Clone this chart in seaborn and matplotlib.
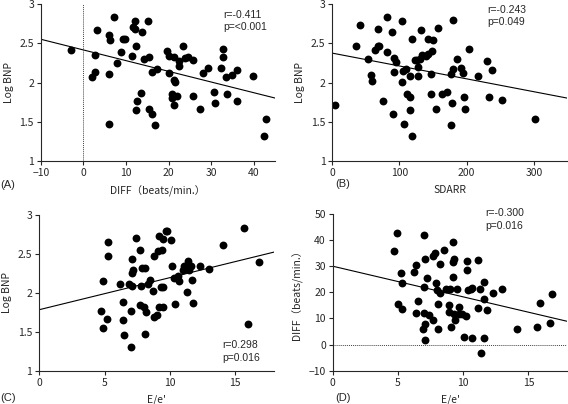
import matplotlib
matplotlib.use("Agg")
import matplotlib.pyplot as plt
import seaborn as sns
import pandas as pd

# =========================
# DATA
# =========================
# (A) DIFF vs Log BNP
a_diff = [-3.0, 1.9, 2.7, 2.7, 3.1, 6.1, 6.3, 6.1, 6.1, 7.1, 8.0, 8.8, 9.3, 9.8,
          11.3, 12.0, 11.7, 12.1, 12.4, 12.6, 12.4, 13.5, 13.7, 14.3, 15.1, 15.5,
          15.4, 16.0, 16.1, 16.8, 17.4, 19.7, 20.0, 20.1, 20.9, 20.9, 21.2, 21.6,
          21.3, 21.4, 21.9, 22.4, 22.5, 23.5, 23.9, 24.5, 25.8, 25.8, 27.4, 28.1,
          29.3, 30.6, 30.9, 32.4, 32.9, 32.9, 33.4, 33.7, 35.0, 36.2, 36.2, 39.9,
          42.8, 42.4]
a_bnp = [2.41, 2.07, 2.14, 2.35, 2.67, 2.61, 2.54, 2.11, 1.47, 2.83, 2.25, 2.39,
         2.55, 2.55, 2.34, 2.79, 2.71, 2.68, 2.46, 1.77, 1.65, 1.87, 2.64, 2.30,
         2.79, 2.32, 1.67, 2.14, 1.60, 1.46, 2.17, 2.40, 2.34, 2.12, 1.85, 1.81,
         2.03, 2.01, 1.71, 2.32, 1.83, 2.21, 2.27, 2.46, 2.31, 2.32, 2.29, 1.83,
         1.66, 2.12, 2.18, 1.88, 1.74, 2.18, 2.43, 2.33, 2.07, 1.85, 2.10, 2.16,
         1.77, 2.08, 1.54, 1.32]

# (B) SDARR vs Log BNP
b_sdarr = [4, 36, 41, 53, 58, 59, 64, 68, 68, 69, 76, 81, 82, 89, 91, 92, 92, 95,
           104, 104, 106, 107, 110, 111, 115, 116, 115, 118, 118, 123, 126, 127,
           128, 130, 132, 134, 139, 142, 143, 147, 147, 148, 150, 155, 158, 164,
           171, 176, 177, 178, 179, 180, 185, 191, 194, 196, 197, 203, 217, 231,
           234, 237, 252, 302]
b_bnp = [1.71, 2.46, 2.73, 2.30, 2.10, 2.02, 2.42, 2.68, 2.46, 2.47, 1.77, 2.39,
         2.83, 2.64, 1.60, 2.31, 2.14, 2.26, 2.01, 2.78, 2.15, 1.47, 2.17, 1.86,
         1.82, 2.08, 1.65, 1.32, 2.55, 2.29, 2.29, 2.20, 2.08, 2.30, 2.67, 2.35,
         2.34, 2.36, 2.55, 1.86, 2.11, 2.40, 2.54, 1.66, 2.70, 1.85, 1.88, 2.11,
         1.46, 1.74, 2.17, 2.80, 2.30, 2.19, 2.12, 1.82, 1.67, 2.43, 2.08, 2.28,
         1.82, 2.16, 1.78, 1.54]

# (C) E/e' vs Log BNP
c_ee = [4.7, 4.9, 4.9, 5.2, 5.3, 5.3, 6.2, 6.4, 6.4, 6.5, 7.0, 7.0, 6.9, 7.1, 7.1,
        7.1, 7.2, 7.4, 7.7, 7.7, 7.8, 7.9, 8.0, 8.1, 8.1, 8.2, 8.3, 8.5, 8.7, 8.8,
        8.8, 9.0, 9.1, 9.2, 9.2, 9.3, 9.4, 9.5, 9.5, 9.5, 9.7, 9.8, 10.1, 10.2,
        10.3, 10.4, 10.6, 10.7, 11.0, 11.1, 11.3, 11.4, 11.5, 11.6, 11.7, 11.8,
        12.3, 13.0, 14.1, 15.7, 16.0, 16.8]
c_bnp = [1.77, 2.15, 1.55, 1.66, 2.65, 2.47, 2.12, 1.88, 1.65, 1.46, 1.31, 1.77,
         2.11, 2.09, 2.43, 2.25, 2.29, 2.70, 2.55, 1.85, 2.09, 2.32, 1.82, 2.32,
         1.47, 1.75, 2.12, 2.16, 2.03, 2.47, 1.69, 1.72, 2.54, 2.73, 1.82, 2.08,
         2.55, 2.69, 2.08, 1.82, 2.79, 2.79, 2.68, 2.34, 2.19, 1.86, 2.22, 2.15,
         2.29, 2.34, 2.01, 2.41, 2.29, 2.34, 2.17, 1.87, 2.34, 2.31, 2.62, 2.83,
         1.60, 2.40]

# (D) E/e' vs DIFF
d_ee = [4.7, 4.9, 5.0, 5.2, 5.3, 5.3, 6.2, 6.4, 6.4, 6.5, 6.9, 7.0, 7.0, 7.0, 7.1,
        7.1, 7.1, 7.2, 7.4, 7.7, 7.7, 7.8, 7.9, 8.0, 8.1, 8.2, 8.2, 8.1, 8.5, 8.7,
        8.9, 8.9, 9.0, 9.1, 9.2, 9.2, 9.2, 9.3, 9.3, 9.4, 9.5, 9.7, 9.7, 9.9, 10.2,
        10.1, 10.3, 10.3, 10.4, 10.6, 10.7, 10.7, 11.1, 11.1, 11.3, 11.4, 11.6,
        11.6, 11.6, 11.8, 12.3, 13.0, 14.1, 15.7, 15.9, 16.7, 16.8]
d_diff = [35.8, 42.5, 15.5, 27.3, 23.4, 13.6, 27.9, 30.3, 12.2, 16.7, 6.1, 41.8,
          22.2, 12.2, 8.0, 1.7, 32.6, 25.6, 11.3, 9.4, 33.7, 34.9, 23.7, 20.9, 6.1,
          30.8, 19.9, 15.4, 36.0, 21.1, 15.3, 12.5, 21.1, 6.6, 25.8, 39.3, 31.7,
          32.6, 11.9, 9.4, 21.4, 14.5, 11.7, 11.7, 10.9, 3.0, 31.9, 28.5, 20.9,
          21.4, 21.8, 2.6, 32.4, 13.9, 21.1, -3.1, 24.1, 17.3, 2.6, 13.2, 19.6,
          21.1, 6.1, 6.8, 16.0, 8.4, 19.3]

stats_text = ["r=-0.411\np=<0.001", "r=-0.243\np=0.049",
              "r=0.298\np=0.016", "r=-0.300\np=0.016"]
panel_tags = ["(A)", "(B)", "(C)", "(D)"]

# =========================
# FIGURE
# =========================
sns.set_style("ticks")
plt.rcParams["font.family"] = ["Noto Sans CJK JP", "DejaVu Sans"]
plt.rcParams["axes.linewidth"] = 0.8
plt.rcParams["xtick.major.size"] = 3
plt.rcParams["ytick.major.size"] = 3
plt.rcParams["xtick.major.width"] = 0.8
plt.rcParams["ytick.major.width"] = 0.8
plt.rcParams["xtick.major.pad"] = 2
plt.rcParams["ytick.major.pad"] = 2

fig = plt.figure(figsize=(5.68, 4.04), dpi=100)
ax_a = fig.add_axes([0.072, 0.601, 0.412, 0.389])
ax_b = fig.add_axes([0.585, 0.601, 0.414, 0.389])
ax_c = fig.add_axes([0.069, 0.082, 0.414, 0.386])
ax_d = fig.add_axes([0.586, 0.082, 0.413, 0.389])

panels = [
    (ax_a, a_diff, a_bnp, (-10, 45), (1, 3), "DIFF（beats/min.）", "Log BNP"),
    (ax_b, b_sdarr, b_bnp, (0, 350), (1, 3), "SDARR", "Log BNP"),
    (ax_c, c_ee, c_bnp, (0, 18), (1, 3), "E/e'", "Log BNP"),
    (ax_d, d_ee, d_diff, (0, 18), (-10, 50), "E/e'", "DIFF（beats/min.）"),
]

for ax, xs, ys, xl, yl, xlab, ylab in panels:
    df = pd.DataFrame({"x": xs, "y": ys})
    ax.set_xlim(*xl)
    ax.set_ylim(*yl)
    sns.regplot(data=df, x="x", y="y", ax=ax, ci=None, truncate=False,
                scatter_kws={"s": 32, "color": "black", "linewidths": 0, "alpha": 1},
                line_kws={"color": "black", "linewidth": 0.8})
    ax.set_xlim(*xl)
    ax.set_ylim(*yl)
    ax.set_xlabel(xlab, fontsize=7.5, labelpad=5)
    ax.set_ylabel(ylab, fontsize=7.5, labelpad=4)
    ax.tick_params(labelsize=7.5)
    sns.despine(ax=ax)

ax_a.set_xticks([-10, 0, 10, 20, 30, 40])
ax_a.set_yticks([1, 1.5, 2, 2.5, 3])
ax_a.set_yticklabels(["1", "1.5", "2", "2.5", "3"])
ax_b.set_xticks([0, 100, 200, 300])
ax_b.set_yticks([1, 1.5, 2, 2.5, 3])
ax_b.set_yticklabels(["1", "1.5", "2", "2.5", "3"])
ax_c.set_xticks([0, 5, 10, 15])
ax_c.set_yticks([1, 1.5, 2, 2.5, 3])
ax_c.set_yticklabels(["1", "1.5", "2", "2.5", "3"])
ax_d.set_xticks([0, 5, 10, 15])
ax_d.set_yticks([-10, 0, 10, 20, 30, 40, 50])

# reference lines
ax_a.axvline(0, color="#444444", linestyle=(0, (1, 1)), linewidth=0.7)
ax_d.axhline(0, color="#444444", linestyle=(0, (1, 1)), linewidth=0.7)

# r / p annotations
txt_pos = [(0.78, 0.965), (0.66, 0.995), (0.78, 0.195), (0.65, 1.035)]
for ax, t, (tx, ty) in zip([ax_a, ax_b, ax_c, ax_d], stats_text, txt_pos):
    ax.text(tx, ty, t, transform=ax.transAxes, ha="left", va="top",
            fontsize=7.5, family="Liberation Sans", linespacing=1.3)

# panel tags
fig.text(0.0, 0.542, panel_tags[0], fontsize=8, family="Liberation Sans", va="center")
fig.text(0.59, 0.545, panel_tags[1], fontsize=8, family="Liberation Sans", va="center")
fig.text(0.0, 0.014, panel_tags[2], fontsize=8, family="Liberation Sans", va="center")
fig.text(0.59, 0.014, panel_tags[3], fontsize=8, family="Liberation Sans", va="center")

plt.savefig("out.png", dpi=100)
plt.close()
